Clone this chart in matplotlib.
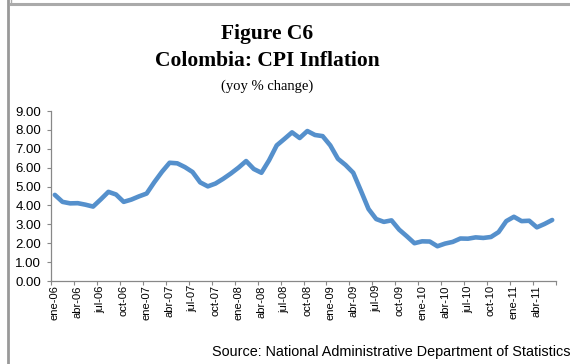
import numpy as np
import matplotlib
matplotlib.use("Agg")
from matplotlib import pyplot as plt
from matplotlib.lines import Line2D

# monthly CPI inflation, yoy % change, ene-06 .. jun-11
months = ['ene', 'feb', 'mar', 'abr', 'may', 'jun',
          'jul', 'ago', 'sep', 'oct', 'nov', 'dic']
years = ['06', '07', '08', '09', '10', '11']

cpi_2006 = [4.56, 4.19, 4.11, 4.12, 4.04, 3.94, 4.32, 4.72, 4.58, 4.19, 4.31, 4.48]
cpi_2007 = [4.63, 5.23, 5.78, 6.26, 6.23, 6.03, 5.77, 5.22, 5.01, 5.16, 5.41, 5.69]
cpi_2008 = [6.00, 6.35, 5.93, 5.73, 6.39, 7.18, 7.52, 7.87, 7.57, 7.94, 7.73, 7.67]
cpi_2009 = [7.18, 6.47, 6.14, 5.73, 4.78, 3.81, 3.28, 3.13, 3.21, 2.72, 2.37, 2.00]
cpi_2010 = [2.10, 2.09, 1.84, 1.98, 2.07, 2.25, 2.24, 2.31, 2.28, 2.33, 2.59, 3.17]
cpi_2011 = [3.40, 3.17, 3.19, 2.84, 3.02, 3.23]

cpi = np.array(cpi_2006 + cpi_2007 + cpi_2008 + cpi_2009 + cpi_2010 + cpi_2011)
labels = [m + '-' + y for y in years for m in months][:len(cpi)]

W, H = 570, 364
fig = plt.figure(figsize=(W / 100, H / 100), dpi=100)

# page borders
fig.add_artist(Line2D([7.5 / W, 7.5 / W], [0, 1], color='#999999', lw=2.0))
fig.add_artist(Line2D([11 / W, 1], [1 - 3.5 / H, 1 - 3.5 / H], color='#aaaaaa', lw=2.2))
fig.add_artist(Line2D([11 / W, 11 / W], [1 - 3.5 / H, 1], color='#aaaaaa', lw=1.0))

ax = fig.add_axes([51 / W, 1 - 281 / H, 505 / W, 170 / H])

x = np.arange(len(cpi))
ax.plot(x, cpi, color='#5590cc', lw=3.3, solid_capstyle='round', solid_joinstyle='round')

ax.set_xlim(-0.5, len(cpi) - 0.5)
ax.set_ylim(0, 9)
ax.set_yticks(np.arange(0, 10, 1))
ax.set_yticklabels(['%.2f' % v for v in np.arange(0, 10, 1)], fontsize=9.5,
                   family='Liberation Sans')

# category labels every quarter, tick marks on the category boundaries
ax.set_xticks(x[::3])
ax.set_xticklabels(labels[::3], rotation=90, fontsize=8, family='Liberation Sans')
ax.set_xticks(np.arange(-0.5, len(cpi), 3), minor=True)
ax.tick_params(axis='x', which='major', length=0, pad=3)
ax.tick_params(axis='x', which='minor', length=3, color='#888888', width=0.8)
ax.tick_params(axis='y', length=3, color='#888888', width=0.8, pad=4)

for s in ['top', 'right']:
    ax.spines[s].set_visible(False)
for s in ['left', 'bottom']:
    ax.spines[s].set_color('#888888')
    ax.spines[s].set_linewidth(0.9)

fig.text(267 / W, 1 - 34 / H, 'Figure C6', ha='center', va='center',
         fontsize=15.5, fontweight='bold', family='Liberation Serif')
fig.text(267 / W, 1 - 61 / H, 'Colombia: CPI Inflation', ha='center', va='center',
         fontsize=15.5, fontweight='bold', family='Liberation Serif')
fig.text(267 / W, 1 - 86 / H, '(yoy % change)', ha='center', va='center',
         fontsize=10.5, family='Liberation Serif')

fig.text(212 / W, 1 - 352 / H, 'Source: National Administrative Department of Statistics',
         ha='left', va='center', fontsize=10.4, family='Liberation Sans')

fig.savefig('out.png', dpi=100)
